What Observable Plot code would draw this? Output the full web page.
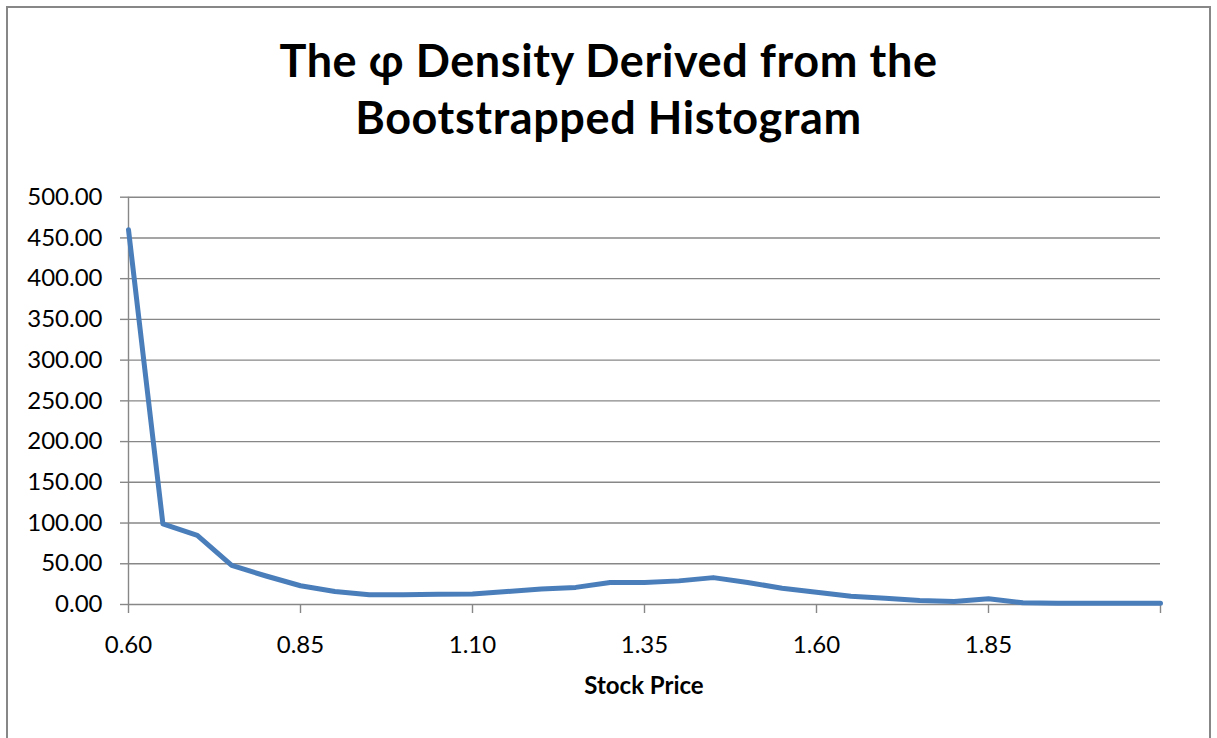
<!DOCTYPE html>
<html><head><meta charset="utf-8">
<script src="https://cdn.jsdelivr.net/npm/d3@7"></script>
<script src="https://cdn.jsdelivr.net/npm/@observablehq/plot@0.6"></script>
<style>
body{margin:0;background:#fff;}
#wrap{position:relative;width:1217px;height:738px;overflow:hidden;font-family:Lato,"Open Sans",sans-serif;background:#fff;}
#frame{position:absolute;left:6px;top:6px;width:1205px;height:800px;border:2px solid #878787;border-bottom:none;box-sizing:border-box;}
#title{position:absolute;left:0;width:1217px;top:32px;text-align:center;font-weight:bold;font-size:45px;letter-spacing:0.6px;line-height:57px;color:#000;}
#xlabel{position:absolute;left:444px;width:400px;top:671px;text-align:center;font-weight:bold;font-size:24px;line-height:28px;color:#000;}
#chart{position:absolute;left:0;top:0;}
</style>
</head>
<body>
<div id="wrap">
  <div id="frame"></div>
  <div id="chart"></div>
  <div id="title">The φ Density Derived from the<br>Bootstrapped Histogram</div>
  <div id="xlabel">Stock Price</div>
</div>
<script>
const prices = [0.60,0.65,0.70,0.75,0.80,0.85,0.90,0.95,1.00,1.05,1.10,1.15,1.20,1.25,1.30,1.35,1.40,1.45,1.50,1.55,1.60,1.65,1.70,1.75,1.80,1.85,1.90,1.95,2.00,2.05,2.10];
const density = [460,99,85,48,35,23,16,12,12,12.5,13,16,19,21,27,27,29,33,27,20,15,10,7.7,5,3.6,7,2.2,1.5,1.5,1.5,1.5];
const xTicks = [0.60,0.85,1.10,1.35,1.60,1.85,2.10];
const xTickLabels = ["0.60","0.85","1.10","1.35","1.60","1.85",""];
const yTicks = [0,50,100,150,200,250,300,350,400,450,500];

const data = prices.map((p,i)=>({price:p, density:density[i]}));
const labelFor = d => { const k = xTicks.findIndex(t => Math.abs(t-d) < 1e-9); return k < 0 ? "" : xTickLabels[k]; };

const chart = Plot.plot({
  width:1217, height:738,
  marginLeft:128, marginRight:57, marginTop:196.7, marginBottom:134,
  style:{fontFamily:"Lato, 'Open Sans', sans-serif", fontSize:"24px", color:"#000", background:"transparent", overflow:"visible"},
  x:{domain:[0.60,2.10]},
  y:{domain:[0,500]},
  marks:[
    Plot.ruleY(yTicks,{stroke:"#878787", strokeWidth:1.4}),
    Plot.ruleX([prices[0]],{stroke:"#878787", strokeWidth:1.4}),
    Plot.axisY({ticks:yTicks, tickSize:8, tickPadding:18, tickFormat:d=>d.toFixed(2), stroke:"#878787", strokeWidth:1.4, fill:"#000", label:null}),
    Plot.axisX({ticks:xTicks, tickSize:9, tickPadding:22, tickFormat:labelFor, stroke:"#878787", strokeWidth:1.4, fill:"#000", label:null}),
    Plot.line(data,{x:"price", y:"density", stroke:"#4a7ebb", strokeWidth:5})
  ]
});
document.getElementById("chart").appendChild(chart);
</script>
</body></html>
